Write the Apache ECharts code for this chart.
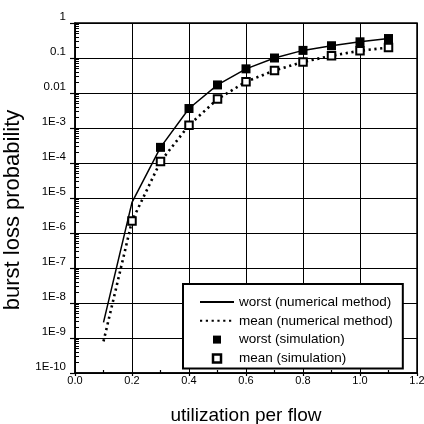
<!DOCTYPE html>
<html>
<head>
<meta charset="utf-8">
<script src="https://cdn.jsdelivr.net/npm/echarts@6/dist/echarts.min.js"></script>
<style>
  html, body { margin: 0; padding: 0; background: #fff; }
  #chart { width: 424px; height: 424px; }
</style>
</head>
<body>
<div id="chart"></div>
<script>
// values
const xNum = [0.1, 0.2, 0.3, 0.4, 0.5, 0.6, 0.7, 0.8, 0.9, 1.0, 1.1];
const worstNum = [2.8e-9, 7.5e-6, 2.8e-4, 3.6e-3, 0.017, 0.049, 0.10, 0.165, 0.224, 0.29, 0.36];
const meanNum = [8e-10, 2.2e-6, 1.1e-4, 1.2e-3, 6.7e-3, 0.021, 0.044, 0.077, 0.116, 0.161, 0.20];

const worstSimX = [0.3, 0.4, 0.5, 0.6, 0.7, 0.8, 0.9, 1.0, 1.1];
const worstSim = [2.8e-4, 3.6e-3, 0.017, 0.049, 0.10, 0.165, 0.224, 0.29, 0.36];
const meanSimX = [0.2, 0.3, 0.4, 0.5, 0.6, 0.7, 0.8, 0.9, 1.0, 1.1];
const meanSim = [2.2e-6, 1.1e-4, 1.2e-3, 6.7e-3, 0.021, 0.044, 0.077, 0.116, 0.161, 0.20];

// y tick labels, indexed by -exponent
const yTickLabels = ['1', '0.1', '0.01', '1E-3', '1E-4', '1E-5', '1E-6', '1E-7', '1E-8', '1E-9', '1E-10'];

const seriesNames = ['worst (numerical method)', 'mean (numerical method)', 'worst (simulation)', 'mean (simulation)'];

function pairs(xs, ys) {
  return xs.map((x, i) => [x, ys[i]]);
}

const font = 'Liberation Sans, Arial, sans-serif';
const chart = echarts.init(document.getElementById('chart'));

const option = {
  animation: false,
  backgroundColor: '#fff',
  textStyle: { fontFamily: font, color: '#000' },
  grid: {
    left: 75, right: 7, top: 23, bottom: 51,
    containLabel: false,
    outerBoundsMode: 'none',
    show: true,
    borderColor: '#000',
    borderWidth: 1.5,
    backgroundColor: 'transparent'
  },
  legend: {
    orient: 'vertical',
    left: 183,
    top: 284,
    itemWidth: 34,
    itemHeight: 10,
    itemGap: 4.8,
    padding: [11, 10, 3, 16],
    borderColor: '#000',
    borderWidth: 2,
    backgroundColor: '#fff',
    textStyle: { fontSize: 13.5, color: '#000', fontFamily: font },
    data: [
      { name: seriesNames[0], itemStyle: { opacity: 0 } },
      { name: seriesNames[1], itemStyle: { opacity: 0 } },
      { name: seriesNames[2] },
      { name: seriesNames[3], itemStyle: { borderWidth: 2.5 } }
    ]
  },
  xAxis: {
    type: 'value',
    min: 0,
    max: 1.2,
    interval: 0.2,
    name: 'utilization per flow',
    nameLocation: 'middle',
    nameGap: 33,
    nameTextStyle: { fontSize: 19, color: '#000', fontFamily: font },
    axisLine: { lineStyle: { color: '#000', width: 1.5 } },
    axisTick: { show: true, length: 3, lineStyle: { color: '#000', width: 1.2 } },
    minorTick: { show: true, splitNumber: 2, length: -3, lineStyle: { color: '#000', width: 1.2 } },
    splitLine: { show: true, lineStyle: { color: '#000', width: 1 } },
    axisLabel: {
      fontSize: 11,
      color: '#000',
      margin: 2,
      formatter: v => v.toFixed(1)
    }
  },
  yAxis: {
    type: 'log',
    logBase: 10,
    min: 1e-10,
    max: 1,
    interval: 1,
    splitNumber: 10,
    name: 'burst loss probability',
    nameLocation: 'middle',
    nameGap: 38,
    nameTextStyle: { fontSize: 22, color: '#000', fontFamily: font, padding: [0, 24, 0, 0] },
    axisLine: { lineStyle: { color: '#000', width: 1.5 } },
    axisTick: { show: true, length: 5, lineStyle: { color: '#000', width: 1.2 } },
    minorTick: { show: true, splitNumber: 9, length: -4, lineStyle: { color: '#000', width: 1 } },
    splitLine: { show: true, lineStyle: { color: '#000', width: 1 } },
    axisLabel: {
      fontSize: 11.5,
      color: '#000',
      margin: 9,
      verticalAlign: 'bottom',
      formatter: v => yTickLabels[Math.round(-Math.log10(v))] || ''
    }
  },
  series: [
    {
      name: seriesNames[0],
      type: 'line',
      data: pairs(xNum, worstNum),
      symbol: 'none',
      z: 3,
      itemStyle: { color: '#000' },
      lineStyle: { color: '#000', width: 1.5, type: 'solid' }
    },
    {
      name: seriesNames[1],
      type: 'line',
      data: pairs(xNum, meanNum),
      symbol: 'none',
      z: 3,
      itemStyle: { color: '#000' },
      lineStyle: { color: '#000', width: 2.6, type: [2.2, 3.6] }
    },
    {
      name: seriesNames[2],
      type: 'line',
      data: pairs(worstSimX, worstSim),
      symbol: 'rect',
      symbolSize: 9,
      showAllSymbol: true,
      z: 4,
      itemStyle: { color: '#000' },
      lineStyle: { width: 0, opacity: 0 }
    },
    {
      name: seriesNames[3],
      type: 'line',
      data: pairs(meanSimX, meanSim),
      symbol: 'rect',
      symbolSize: 7.5,
      showAllSymbol: true,
      z: 4,
      itemStyle: { color: '#fff', borderColor: '#000', borderWidth: 2 },
      lineStyle: { width: 0, opacity: 0 }
    }
  ]
};

chart.setOption(option);
</script>
</body>
</html>
